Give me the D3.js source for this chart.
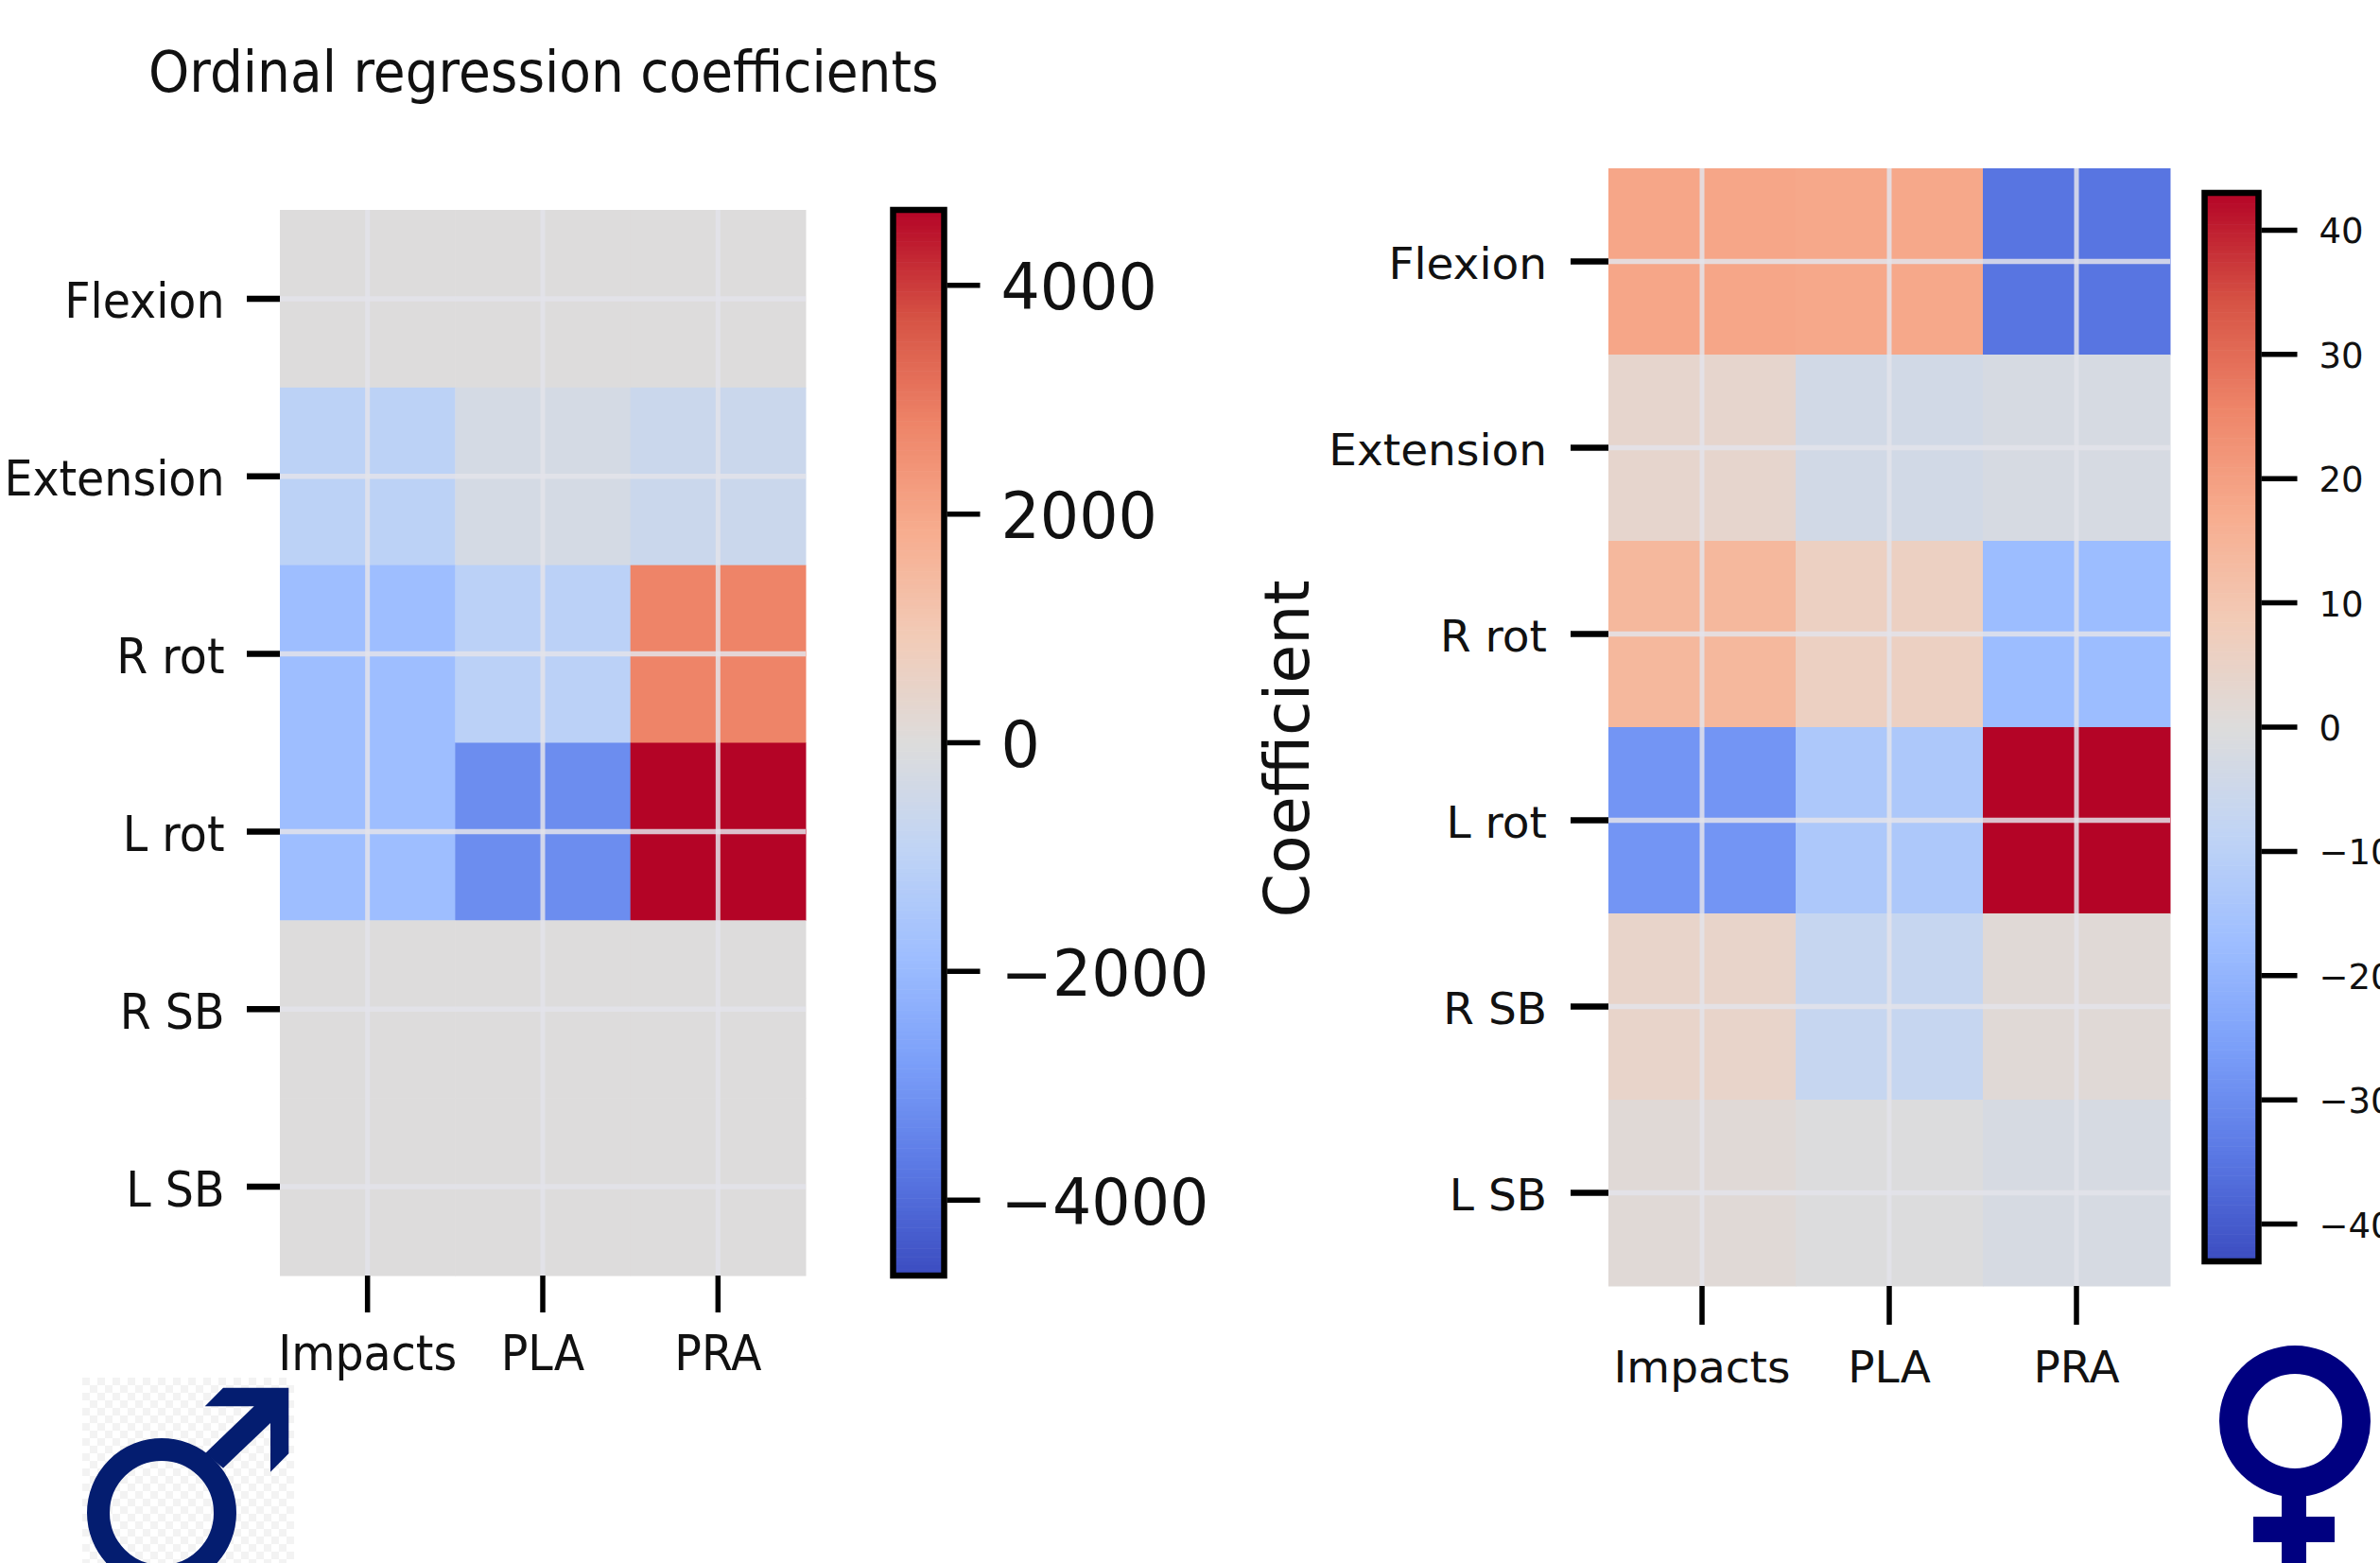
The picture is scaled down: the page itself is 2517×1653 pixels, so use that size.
<!DOCTYPE html>
<html>
<head>
<meta charset="utf-8">
<title>Ordinal regression coefficients</title>
<script src="https://cdn.jsdelivr.net/npm/d3@7"></script>
<style>
html,body{margin:0;padding:0;background:#fff;overflow:hidden}
svg{display:block}
text{font-family:"DejaVu Sans",sans-serif;fill:#111}
</style>
</head>
<body>
<svg id="chart" width="2517" height="1653"></svg>
<script>
// Ordinal regression coefficients, male and female heatmaps
const measures=["Impacts","PLA","PRA"];
const motions=["Flexion","Extension","R rot","L rot","R SB","L SB"];

// rows follow motions, columns follow measures
const maleCoefs=[
  [10,12,8],
  [-1030,-280,-600],
  [-1860,-1080,2800],
  [-1860,-3220,4660],
  [5,3,4],
  [4,5,3]
];
const femaleCoefs=[
  [18.5,18,-35],
  [3.5,-3.5,-2.2],
  [14,6,-17.6],
  [-28,-13.3,43],
  [4.3,-6.9,1.4],
  [1.3,-0.3,-2.2]
];
const maleLimit=4660;
const femaleLimit=43;
const maleTicks=[-4000,-2000,0,2000,4000];
const femaleTicks=[-40,-30,-20,-10,0,10,20,30,40];

// coolwarm samples, evenly spaced from 0 to 1
const coolwarm=["#3b4cc0","#5a78e4","#7b9ff9","#9ebeff","#c0d4f5","#dddcdc","#f2cbb7","#f7ac8e","#ee8468","#d65244","#b40426"];
const ramp=d3.scaleLinear().domain(d3.range(11).map(i=>i/10)).range(coolwarm).interpolate(d3.interpolateRgb);

const svg=d3.select("#chart");
svg.append("rect").attr("width",2517).attr("height",1653).attr("fill","#fff");

const fmt=v=>String(v).replace("-","\u2212");

function drawHeatmap(o){
  const g=svg.append("g").attr("class","panel");
  const x=d3.scaleBand().domain(measures).range([o.x0,o.x1]);
  const y=d3.scaleBand().domain(motions).range([o.y0,o.y1]);
  const color=v=>ramp((v+o.limit)/(2*o.limit));

  motions.forEach((m,r)=>{
    g.selectAll(null).data(o.values[r]).enter().append("rect")
      .attr("x",(d,c)=>x(measures[c]))
      .attr("y",y(m))
      .attr("width",x.bandwidth()+0.5)
      .attr("height",y.bandwidth()+0.5)
      .attr("fill",d=>color(d));
  });

  // light grid through the cell centres
  g.selectAll(".gx").data(measures).enter().append("line")
    .attr("x1",d=>x(d)+x.bandwidth()/2).attr("x2",d=>x(d)+x.bandwidth()/2)
    .attr("y1",o.y0).attr("y2",o.y1)
    .attr("stroke","#e3e3ea").attr("stroke-opacity",.85).attr("stroke-width",5);
  g.selectAll(".gy").data(motions).enter().append("line")
    .attr("y1",d=>y(d)+y.bandwidth()/2).attr("y2",d=>y(d)+y.bandwidth()/2)
    .attr("x1",o.x0).attr("x2",o.x1)
    .attr("stroke","#e3e3ea").attr("stroke-opacity",.85).attr("stroke-width",5.5);

  const ax=g.append("g").attr("transform","translate(0,"+o.y1+")")
    .call(d3.axisBottom(x).offset(0).tickSize(o.tickX).tickPadding(0));
  ax.select(".domain").remove();
  ax.selectAll("line").attr("stroke","#000").attr("stroke-width",5.5);
  ax.selectAll("text")
    .attr("font-size",o.labelSize+"px")
    .attr("y",0).attr("dy",(o.xBase/o.stretch)+"px")
    .attr("transform","scale(1,"+o.stretch+")");

  const ay=g.append("g").attr("transform","translate("+o.x0+",0)")
    .call(d3.axisLeft(y).offset(0).tickSize(o.tickY).tickPadding(o.padY));
  ay.select(".domain").remove();
  ay.selectAll("line").attr("stroke","#000").attr("stroke-width",6.5);
  ay.selectAll("text")
    .attr("font-size",o.labelSize+"px")
    .attr("dy",(o.yBase/o.stretch)+"px")
    .attr("transform","scale(1,"+o.stretch+")");
}

function drawColorbar(o){
  const g=svg.append("g").attr("class","colorbar");
  const s=d3.scaleLinear().domain([-o.limit,o.limit]).range([o.y1,o.y0]);
  const steps=d3.range(256).map(i=>-o.limit+(i/255)*2*o.limit);
  const h=(o.y1-o.y0)/255;
  g.selectAll("rect").data(steps).enter().append("rect")
    .attr("x",o.x0).attr("width",o.x1-o.x0)
    .attr("y",d=>s(d)-h/2).attr("height",h+0.6)
    .attr("fill",d=>ramp((d+o.limit)/(2*o.limit)));
  g.append("rect")
    .attr("x",o.x0).attr("y",o.y0)
    .attr("width",o.x1-o.x0).attr("height",o.y1-o.y0)
    .attr("fill","none").attr("stroke","#000").attr("stroke-width",6.5);

  const a=g.append("g").attr("transform","translate("+(o.x1+3)+",0)")
    .call(d3.axisRight(s).offset(0).tickValues(o.ticks).tickFormat(fmt).tickSize(o.tick).tickPadding(o.pad));
  a.select(".domain").remove();
  a.selectAll("line").attr("stroke","#000").attr("stroke-width",5.5);
  a.selectAll("text")
    .attr("font-size",o.size+"px")
    .attr("dy",(o.base/o.stretch)+"px")
    .attr("transform","scale(1,"+o.stretch+")");
}

drawHeatmap({values:maleCoefs,limit:maleLimit,x0:296,x1:852,y0:222,y1:1349,
  tickX:39,tickY:35,padY:23.5,labelSize:47.5,stretch:1.08,xBase:100,yBase:20.5});
drawHeatmap({values:femaleCoefs,limit:femaleLimit,x0:1701,x1:2295,y0:178,y1:1360,
  tickX:41,tickY:40,padY:25,labelSize:47,stretch:1,xBase:102,yBase:18});

drawColorbar({limit:maleLimit,ticks:maleTicks,x0:944.5,x1:998.5,y0:222,y1:1349,
  tick:35,pad:22,size:65,stretch:1.03,base:25.5});
drawColorbar({limit:femaleLimit,ticks:femaleTicks,x0:2331.5,x1:2388.5,y0:204,y1:1334,
  tick:38,pad:23,size:37,stretch:1,base:14});

svg.append("text").attr("transform","translate(157,97) scale(1,1.09)")
  .attr("font-size","55px").text("Ordinal regression coefficients");

svg.append("text").attr("transform","translate(1384,792) rotate(-90)")
  .attr("text-anchor","middle").attr("font-size","66.6px").text("Coefficient");

// male sign on its checkered image background
const defs=svg.append("defs");
const pat=defs.append("pattern").attr("id","checker").attr("patternUnits","userSpaceOnUse")
  .attr("x",87).attr("y",1457).attr("width",16).attr("height",16);
pat.append("rect").attr("width",16).attr("height",16).attr("fill","#fff");
pat.append("rect").attr("width",8).attr("height",8).attr("fill","#f3f3f3");
pat.append("rect").attr("x",8).attr("y",8).attr("width",8).attr("height",8).attr("fill","#f3f3f3");

const maleSign=svg.append("g").attr("class","male");
maleSign.append("rect").attr("x",87).attr("y",1457).attr("width",224).attr("height",196).attr("fill","url(#checker)");
maleSign.append("circle").attr("cx",171).attr("cy",1600).attr("r",67)
  .attr("fill","none").attr("stroke","#041d70").attr("stroke-width",24);
maleSign.append("path").attr("fill","#041d70")
  .attr("d","M236,1467.7L305.3,1467.7L305.3,1537.3L286,1556.7L286,1505L236,1552.7L217.3,1536.7L268.7,1487.3L216.7,1487.3Z");

const femaleSign=svg.append("g").attr("class","female");
femaleSign.append("circle").attr("cx",2427).attr("cy",1503).attr("r",65)
  .attr("fill","none").attr("stroke","#000080").attr("stroke-width",30);
femaleSign.append("rect").attr("x",2413).attr("y",1575).attr("width",26).attr("height",78).attr("fill","#000080");
femaleSign.append("rect").attr("x",2383).attr("y",1604).attr("width",86).attr("height",27).attr("fill","#000080");
</script>
</body>
</html>
